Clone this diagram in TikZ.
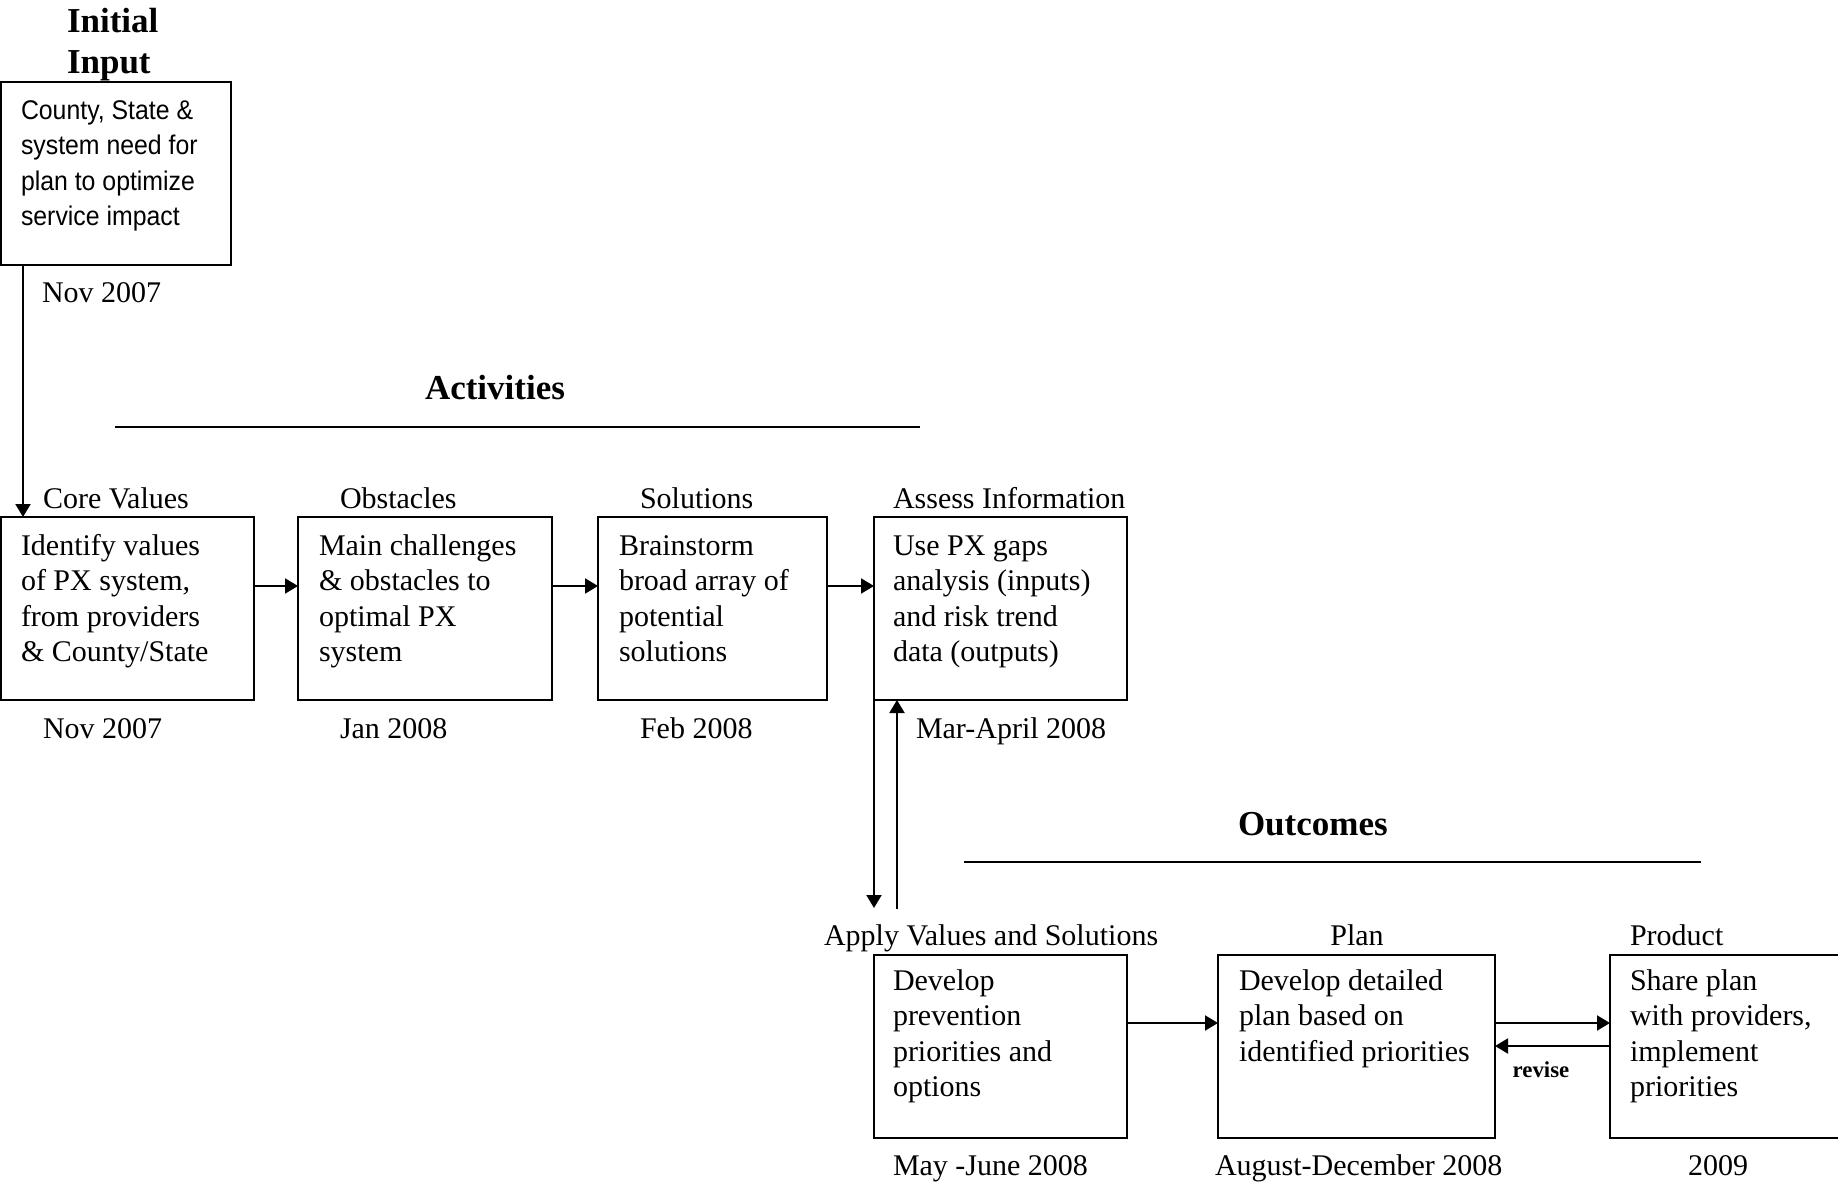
\documentclass[tikz,border=0pt]{standalone}
\usepackage{fontspec}
\setmainfont{Liberation Serif}
\newfontfamily\arialn[FakeStretch=0.92]{Liberation Sans}
\usetikzlibrary{arrows.meta,calc,fit}
\newcommand\boxtxt[1]{\parbox[t]{220pt}{\fontsize{15pt}{17.75pt}\selectfont #1}}
\newcommand\inittxt[1]{\parbox[t]{220pt}{\arialn\fontsize{13.5pt}{17.75pt}\selectfont #1}}
\tikzset{
  every node/.style={inner sep=0pt, outer sep=0pt},
  box/.style={draw, line width=1.1pt, inner sep=0pt},
  txt/.style={anchor=base west, font=\fontsize{15pt}{17.75pt}\selectfont},
  ctxt/.style={anchor=base, font=\fontsize{15pt}{17.75pt}\selectfont},
  head/.style={anchor=base west, font=\bfseries\fontsize{17.5pt}{20.5pt}\selectfont},
  arr/.style={line width=1pt, -{Triangle[length=6.5pt,width=7.5pt]}},
  rule/.style={line width=1.1pt}
}
\begin{document}
\begin{tikzpicture}[x=0.5pt,y=-0.5pt]
\useasboundingbox (0,0) rectangle (1838,1189);
\clip (0,0) rectangle (1838,1189);

% Initial input
\node[head] (ttl1) at (67,32) {Initial};
\node[head] (ttl2) at (67,73) {Input};
\node[box, fit={(1,82) (231,265)}] (init) {};
\node[anchor=base west] (initt) at (21,119) {\inittxt{County, State \&\\system need for\\plan to optimize\\service impact}};
\node[txt] (d0) at (42,302) {Nov 2007};

% Activities heading
\node[head] (act) at (425,399) {Activities};
\coordinate (actl) at (115,427);
\coordinate (actr) at (920,427);
\draw[rule] (actl) -- (actr);

% Row 2 boxes
\node[box, fit={(1,517) (254,700)}] (b1) {};
\node[box, fit={(298,517) (552,700)}] (b2) {};
\node[box, fit={(598,517) (827,700)}] (b3) {};
\node[box, fit={(874,517) (1127,700)}] (b4) {};

\node[txt] (l1) at (43,508) {Core Values};
\node[txt] (l2) at (340,508) {Obstacles};
\node[txt] (l3) at (640,508) {Solutions};
\node[txt] (l4) at (893,508) {Assess Information};

\node[anchor=base west] (t1) at (21,555) {\boxtxt{Identify values\\of PX system,\\from providers\\\& County/State}};
\node[anchor=base west] (t2) at (319,555) {\boxtxt{Main challenges\\\& obstacles to\\optimal PX\\system}};
\node[anchor=base west] (t3) at (619,555) {\boxtxt{Brainstorm\\broad array of\\potential\\solutions}};
\node[anchor=base west] (t4) at (893,555) {\boxtxt{Use PX gaps\\analysis (inputs)\\and risk trend\\data (outputs)}};

\node[txt] (d1) at (43,738) {Nov 2007};
\node[txt] (d2) at (340,738) {Jan 2008};
\node[txt] (d3) at (640,738) {Feb 2008};
\node[txt] (d4) at (916,738) {Mar-April 2008};

% Outcomes heading
\node[head] (out) at (1238,835) {Outcomes};
\coordinate (outl) at (964,862);
\coordinate (outr) at (1701,862);
\draw[rule] (outl) -- (outr);

% Row 3 boxes
\node[box, fit={(874,955) (1127,1138)}] (b5) {};
\node[box, fit={(1218,955) (1495,1138)}] (b6) {};
\node[box, fit={(1610,955) (1870,1138)}] (b7) {};

\node[txt] (l5) at (824,945) {Apply Values and Solutions};
\node[ctxt] (l6) at (1357,945) {Plan};
\node[txt] (l7) at (1630,945) {Product};

\node[anchor=base west] (t5) at (893,990) {\boxtxt{Develop\\prevention\\priorities and\\options}};
\node[anchor=base west] (t6) at (1239,990) {\boxtxt{Develop detailed\\plan based on\\identified priorities}};
\node[anchor=base west] (t7) at (1630,990) {\boxtxt{Share plan\\with providers,\\implement\\priorities}};

\node[txt] (d5) at (893,1175) {May -June 2008};
\node[txt] (d6) at (1215,1175) {August-December 2008};
\node[ctxt] (d7) at (1718,1175) {2009};

\node[anchor=base, font=\bfseries\fontsize{11.4pt}{13pt}\selectfont] (rev) at (1541,1077) {revise};

% connectors
\draw[arr] ($(init.south west)+(22,0)$) -- ($(b1.north west)+(22,0)$);
\draw[arr] ($(b1.east)+(0,-22.5)$) -- ($(b2.west)+(0,-22.5)$);
\draw[arr] ($(b2.east)+(0,-22.5)$) -- ($(b3.west)+(0,-22.5)$);
\draw[arr] ($(b3.east)+(0,-22.5)$) -- ($(b4.west)+(0,-22.5)$);

\coordinate (dn) at (874,908);
\coordinate (up) at (897,909);
\draw[arr] (b4.south west) -- (dn);
\draw[arr] (up) -- (up |- b4.south);

\draw[arr] ($(b5.east)+(0,-23.5)$) -- ($(b6.west)+(0,-23.5)$);
\draw[arr] ($(b6.east)+(0,-23.5)$) -- ($(b7.west)+(0,-23.5)$);
\draw[arr] ($(b7.west)+(0,-0.5)$) -- ($(b6.east)+(0,-0.5)$);
\end{tikzpicture}
\end{document}
